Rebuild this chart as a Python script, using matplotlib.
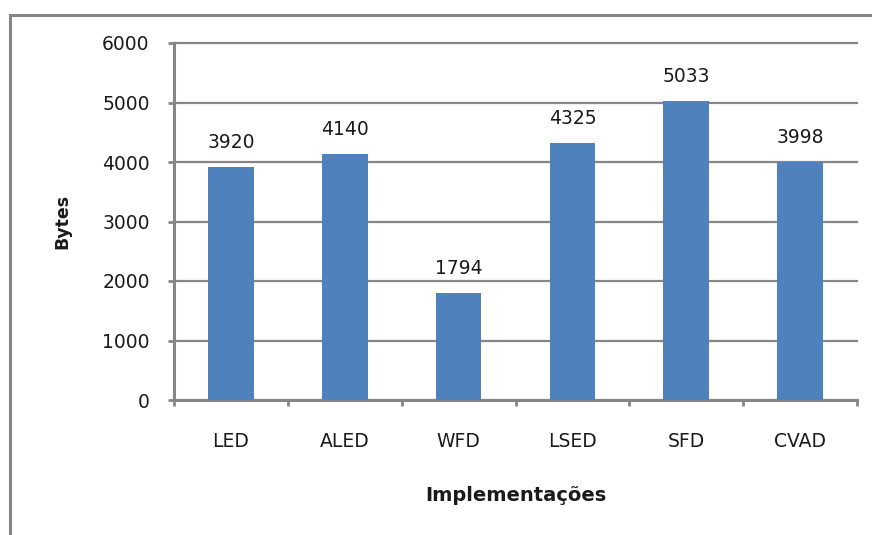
import matplotlib.pyplot as plt
import numpy as np
from matplotlib.patches import Rectangle

categories = ["LED", "ALED", "WFD", "LSED", "SFD", "CVAD"]
values = [3920, 4140, 1794, 4325, 5033, 3998]
yticks = [0, 1000, 2000, 3000, 4000, 5000, 6000]

plt.rcParams['font.family'] = ['DejaVu Sans']

gray = '#868686'
txt = '#1a1a1a'
fig = plt.figure(figsize=(8.72, 5.35), dpi=100)
ax = fig.add_axes([174 / 872, 1 - 400 / 535, 683 / 872, 357 / 535])

# outer chart frame, cut by the image edges like the reference
fig.patches.append(Rectangle((10 / 872, -0.1), 1.2, 1 - 15 / 535 + 0.1,
                             transform=fig.transFigure, fill=False,
                             edgecolor=gray, linewidth=2.2))

x = np.arange(len(categories))
ax.bar(x, values, width=0.40, color='#4F81BD', zorder=3)
for xi, v in zip(x, values):
    ax.text(xi, v + 250, str(v), ha='center', va='bottom', fontsize=13.5, color=txt)

ax.set_xlim(-0.5, len(categories) - 0.5)
ax.set_ylim(0, 6000)
ax.set_yticks(yticks)
ax.set_yticklabels([str(t) for t in yticks], fontsize=13.5, color=txt)
ax.set_xticks(x)
ax.set_xticklabels(categories, fontsize=13.5, color=txt)
ax.set_xticks(np.arange(len(categories) + 1) - 0.5, minor=True)
ax.tick_params(axis='x', which='major', length=0, pad=23)
ax.tick_params(axis='x', which='minor', length=4.5, width=2, color=gray, direction='out')
ax.tick_params(axis='y', length=4.5, width=2, color=gray, pad=13)

ax.grid(axis='y', color=gray, linewidth=1.6, zorder=0)
for gl in ax.get_ygridlines():
    gl.set_clip_on(False)
ax.set_axisbelow(True)
for s in ['top', 'right']:
    ax.spines[s].set_visible(False)
for s in ['left', 'bottom']:
    ax.spines[s].set_color(gray)
    ax.spines[s].set_linewidth(2.2)

ax.set_ylabel('Bytes', fontsize=12.5, fontweight='bold', labelpad=22, color=txt)
ax.set_xlabel('Implementações', fontsize=14, fontweight='bold', labelpad=25, color=txt)

fig.savefig('out.png', dpi=100)
